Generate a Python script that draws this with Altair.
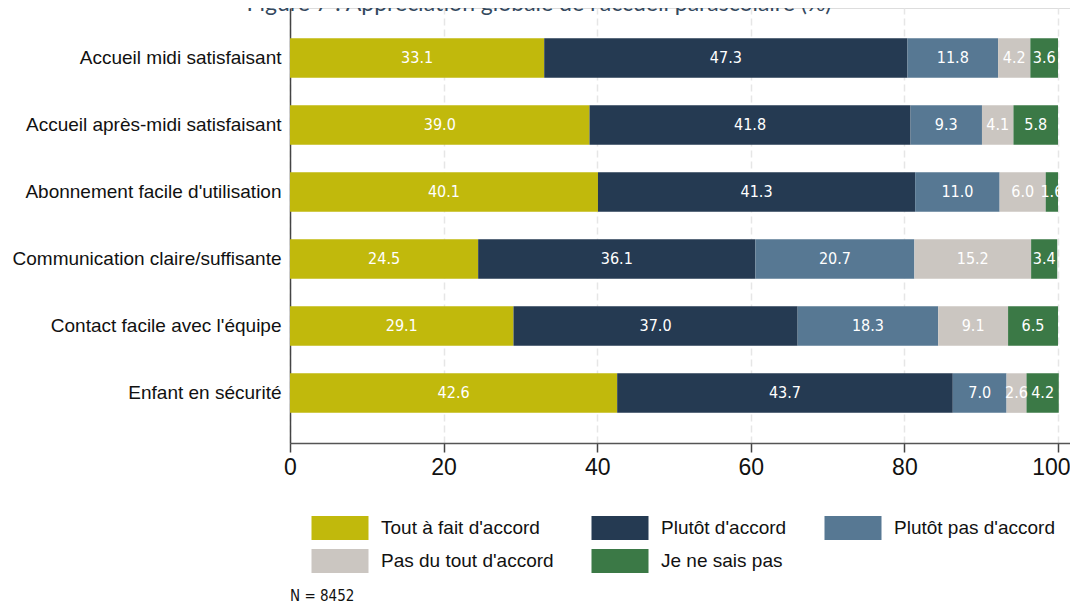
import altair as alt
import pandas as pd

title_text = "Figure 7 : Appréciation globale de l'accueil parascolaire (%)"
note_text = "N = 8452"

categories = [
    "Accueil midi satisfaisant",
    "Accueil après-midi satisfaisant",
    "Abonnement facile d'utilisation",
    "Communication claire/suffisante",
    "Contact facile avec l'équipe",
    "Enfant en sécurité",
]
series = [
    "Tout à fait d'accord",
    "Plutôt d'accord",
    "Plutôt pas d'accord",
    "Pas du tout d'accord",
    "Je ne sais pas",
]
tout_a_fait = [33.1, 39.0, 40.1, 24.5, 29.1, 42.6]
plutot = [47.3, 41.8, 41.3, 36.1, 37.0, 43.7]
plutot_pas = [11.8, 9.3, 11.0, 20.7, 18.3, 7.0]
pas_du_tout = [4.2, 4.1, 6.0, 15.2, 9.1, 2.6]
ne_sais_pas = [3.6, 5.8, 1.6, 3.4, 6.5, 4.2]
colors = ["#c1b90c", "#253a52", "#577893", "#cbc6c1", "#3b7946"]
x_ticks = [0, 20, 40, 60, 80, 100]

values = [tout_a_fait, plutot, plutot_pas, pas_du_tout, ne_sais_pas]
rows = []
for si, (s, vals) in enumerate(zip(series, values)):
    for c, v in zip(categories, vals):
        rows.append({"cat": c, "serie": s, "ord": si, "value": v, "label": f"{v:.1f}"})
df = pd.DataFrame(rows)

W, H = 780, 435
NARROW = "Liberation Sans Narrow, DejaVu Sans Condensed, Liberation Sans, sans-serif"

base = alt.Chart(df).transform_stack(
    stack="value", groupby=["cat"], as_=["x0", "x1"], sort=[alt.SortField("ord")]
).transform_calculate(mid="(datum.x0 + datum.x1) / 2")

y_enc = alt.Y(
    "cat:N",
    sort=categories,
    title=None,
    scale=alt.Scale(paddingInner=0.41, paddingOuter=0.45),
    axis=alt.Axis(
        ticks=False, labelFontSize=19, labelFont="Liberation Sans", labelColor="#111111",
        labelPadding=9, domainColor="#444444", domainWidth=1.5, labelLimit=400, grid=False,
    ),
)
x_scale = alt.Scale(domain=[0, 100 * W / 768], nice=False, zero=True)

bars = base.mark_bar(cornerRadius=0).encode(
    x=alt.X(
        "x0:Q", scale=x_scale, title=None,
        axis=alt.Axis(
            values=x_ticks, labelFontSize=23, labelFont="Liberation Sans", labelColor="#111111",
            tickSize=9, tickColor="#444444", tickWidth=1.5, domainColor="#555555", domainWidth=1.5,
            labelPadding=4, grid=True, gridColor="#e6e6e6", gridDash=[7, 4], gridWidth=1.5,
            labelFlush=False,
            labelAlign={"condition": {"test": "datum.value == 100", "value": "right"}, "value": "center"},
            labelOffset={"condition": {"test": "datum.value == 100", "value": 12}, "value": 0},
        ),
    ),
    x2="x1:Q",
    y=y_enc,
    color=alt.Color(
        "serie:N",
        sort=series,
        scale=alt.Scale(domain=series, range=colors),
        legend=alt.Legend(
            title=None, orient="none", legendX=38, legendY=508, columns=3, direction="horizontal",
            symbolType="M-2.375,-1H2.375V1H-2.375Z", symbolSize=576, symbolStrokeWidth=0,
            symbolOpacity=1, labelFontSize=19, labelFont="Liberation Sans", labelColor="#111111",
            labelOffset=29, columnPadding=37, rowPadding=9, labelLimit=400, padding=0,
        ),
    ),
    order=alt.Order("ord:Q"),
)

labels = base.mark_text(
    color="white", font=NARROW, fontSize=16, baseline="middle", align="center"
).encode(
    x=alt.X("mid:Q", scale=x_scale),
    y=alt.Y("cat:N", sort=categories),
    text="label:N",
)

title_df = pd.DataFrame({"t": [title_text]})
title = alt.Chart(title_df).mark_text(
    font="Lato", fontSize=23, color="#34495e", align="center", baseline="alphabetic"
).encode(text="t:N", x=alt.value(249), y=alt.value(3))

note_df = pd.DataFrame({"t": [note_text]})
note = alt.Chart(note_df).mark_text(
    font=NARROW, fontSize=15, color="#111111", align="left", baseline="bottom"
).encode(text="t:N", x=alt.value(0), y=alt.value(596))

chart = alt.layer(bars, labels, title, note).properties(
    width=W, height=H,
    autosize=alt.AutoSizeParams(type="none"),
    padding={"left": 282, "top": 0, "right": 0, "bottom": 161},
).configure_view(stroke=None).configure(background="white")

chart.save("out.html", embed_options={"renderer": "svg", "actions": False})
